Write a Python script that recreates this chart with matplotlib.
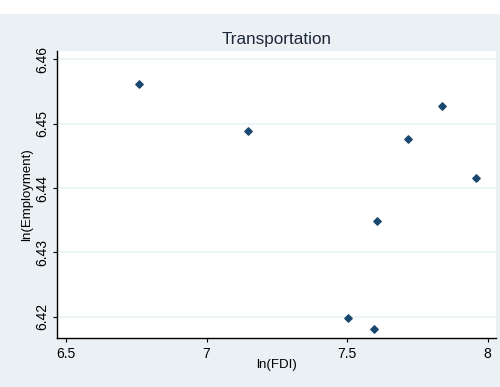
import matplotlib
matplotlib.use('Agg')
import matplotlib.pyplot as plt
from matplotlib.patches import Rectangle

plt.rcParams['font.family'] = ['Liberation Sans', 'DejaVu Sans']

# values
ln_fdi = [6.761, 7.147, 7.837, 7.716, 7.959, 7.607, 7.504, 7.595]
ln_emp = [6.4561, 6.4488, 6.4528, 6.4476, 6.4415, 6.4349, 6.4198, 6.4181]
x_ticks = [6.5, 7, 7.5, 8]
x_labels = ['6.5', '7', '7.5', '8']
y_ticks = [6.42, 6.43, 6.44, 6.45, 6.46]
y_labels = ['6.42', '6.43', '6.44', '6.45', '6.46']

bg = '#EAF0F3'
grid_col = '#EAF2F3'
mark_col = '#1A476F'

fig = plt.figure(figsize=(5, 3.87), dpi=100, facecolor=bg)
# white strip along the top
fig.patches.append(Rectangle((0, 1 - 14 / 387), 1, 14 / 387, transform=fig.transFigure,
                             facecolor='white', edgecolor='none', zorder=0))

ax = fig.add_axes([0.1146, 0.1274, 0.992 - 0.1146, 0.8682 - 0.1274])
ax.set_facecolor('white')

ax.scatter(ln_fdi, ln_emp, marker='D', s=14, color=mark_col, zorder=3)

ax.set_xlim(6.469, 8.0295)
ax.set_ylim(6.41674, 6.4613)
ax.set_xticks(x_ticks)
ax.set_xticklabels(x_labels)
ax.set_yticks(y_ticks)
ax.set_yticklabels(y_labels, rotation=90, va='center')

ax.grid(axis='y', color=grid_col, linewidth=1.2)
ax.set_axisbelow(True)

for s in ['top', 'right']:
    ax.spines[s].set_visible(False)
for s in ['left', 'bottom']:
    ax.spines[s].set_linewidth(1.0)
    ax.spines[s].set_color('black')

ax.tick_params(axis='both', direction='out', length=3, width=0.8, labelsize=10,
               colors='black')
ax.tick_params(axis='x', pad=4)
ax.tick_params(axis='y', pad=3)

ax.set_title('Transportation', fontsize=12.3, color='#1e2a3a', pad=5)
ax.set_xlabel('ln(FDI)', fontsize=9.5, va='center')
ax.set_ylabel('ln(Employment)', fontsize=9.5, va='center')
ax.xaxis.set_label_coords(0.5, -0.095)
ax.yaxis.set_label_coords(-0.069, 0.5)

fig.savefig('out.png', dpi=100, facecolor=bg)
